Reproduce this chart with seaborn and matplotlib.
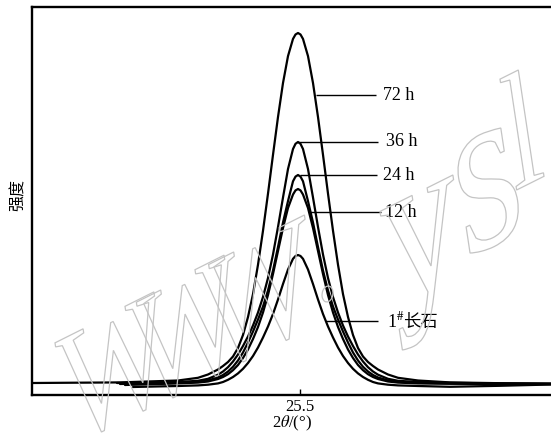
import matplotlib
matplotlib.use("Agg")
import matplotlib.pyplot as plt
import matplotlib.transforms as mtransforms
from matplotlib.textpath import TextPath
from matplotlib.patches import PathPatch
from matplotlib.font_manager import FontProperties
import numpy as np
import pandas as pd
import seaborn as sns

# ---------------- data ----------------
# 2theta positions around the peak (deg), shared by all patterns
two_theta_core = [25.256, 25.296, 25.316, 25.336, 25.346, 25.356, 25.366, 25.376, 25.386, 25.396,
                  25.406, 25.416, 25.426, 25.436, 25.446, 25.456, 25.466, 25.476, 25.486, 25.491,
                  25.496, 25.501,
                  25.506, 25.516, 25.526, 25.536, 25.546, 25.556, 25.566, 25.576, 25.586, 25.596,
                  25.606, 25.616, 25.626, 25.636, 25.646, 25.656, 25.676, 25.696, 25.736]
two_theta_right_tail = [25.800, 25.900, 26.002]

# intensities (a.u.)
i_72h = [145, 172, 205, 255, 290, 330, 385, 470, 600, 780,
         1009, 1303, 1643, 2014, 2402, 2780, 3120, 3389, 3561, 3605,
         3620, 3605,
         3561, 3389, 3120, 2780, 2402, 2014, 1643, 1303, 1009, 780,
         600, 470, 385, 330, 290, 255, 205, 172, 145]
i_36h = [130, 142, 162, 203, 235, 278, 335, 405, 490, 585,
         695, 825, 980, 1170, 1405, 1680, 1975, 2260, 2460, 2512,
         2530, 2512,
         2460, 2260, 1975, 1680, 1405, 1170, 980, 825, 695, 585,
         490, 405, 335, 278, 235, 203, 162, 142, 130]
i_24h = [121, 132, 146, 175, 200, 235, 282, 345, 425, 525,
         635, 755, 885, 1045, 1245, 1480, 1725, 1939, 2137, 2184,
         2200, 2184,
         2137, 1939, 1725, 1480, 1245, 1045, 885, 755, 635, 525,
         425, 345, 282, 235, 200, 175, 146, 132, 121]
i_12h = [116, 124, 135, 160, 180, 208, 248, 300, 370, 455,
         560, 680, 825, 1000, 1210, 1440, 1670, 1870, 2005, 2046,
         2060, 2046,
         2005, 1870, 1670, 1440, 1210, 1000, 825, 680, 560, 455,
         370, 300, 248, 208, 180, 160, 135, 124, 116]
i_1 = [90, 96, 103, 116, 130, 152, 180, 216, 262, 320,
       390, 475, 575, 685, 810, 955, 1110, 1255, 1362, 1390,
       1400, 1390,
       1362, 1255, 1110, 955, 810, 685, 575, 475, 390, 320,
       262, 216, 180, 152, 130, 116, 103, 96, 90]

# baseline tails
left_x_72h, left_i_72h = [24.966, 25.140], [120, 126]
left_x_36h, left_i_36h = [25.134], [120]
left_x_24h, left_i_24h = [25.140], [110]
left_x_12h, left_i_12h = [25.150], [100]
left_x_1, left_i_1 = [25.166], [80]
right_i_72h = [126, 118, 115]
right_i_36h = [122, 115, 112]
right_i_24h = [117, 112, 110]
right_i_12h = [112, 110, 108]
right_i_1 = [82, 92, 105]

samples = ["72 h", "36 h", "24 h", "12 h", "1#长石"]
core = [i_72h, i_36h, i_24h, i_12h, i_1]
left_x = [left_x_72h, left_x_36h, left_x_24h, left_x_12h, left_x_1]
left_i = [left_i_72h, left_i_36h, left_i_24h, left_i_12h, left_i_1]
right_i = [right_i_72h, right_i_36h, right_i_24h, right_i_12h, right_i_1]

x_tick_values = [25.5]
x_tick_labels = ["25.5"]

# label leader lines
label_line_start = [25.532, 25.496, 25.500, 25.518, 25.552]
label_line_end = [25.652, 25.656, 25.654, 25.662, 25.656]
label_level = [3000, 2530, 2200, 1830, 740]
label_text_x = [25.666, 25.672, 25.666, 25.670, 25.676]

# ---------------- style ----------------
sns.set_theme(style="white")
plt.rcParams["font.family"] = ["Liberation Serif", "Noto Sans CJK SC"]
plt.rcParams["mathtext.fontset"] = "stix"

W, H = 551, 436
fig = plt.figure(figsize=(W / 100, H / 100), dpi=100)
ax = fig.add_axes([32 / W, 41 / H, 519 / W, 388 / H])

frames = []
for s, c, lx, li, ri in zip(samples, core, left_x, left_i, right_i):
    frames.append(pd.DataFrame({
        "two_theta": list(lx) + two_theta_core + two_theta_right_tail,
        "intensity": list(li) + c + ri,
        "sample": s,
    }))
df = pd.concat(frames, ignore_index=True)

sns.lineplot(data=df, x="two_theta", y="intensity", hue="sample",
             palette=["black"] * len(samples), estimator=None, sort=False,
             linewidth=1.6, legend=False, ax=ax)

ax.set_xlim(24.964, 26.002)
ax.set_ylim(0, 3880)

for side in ["left", "bottom", "top"]:
    ax.spines[side].set_visible(True)
    ax.spines[side].set_color("black")
    ax.spines[side].set_linewidth(1.7)
ax.spines["right"].set_visible(False)

ax.set_xticks(x_tick_values)
ax.set_xticklabels(x_tick_labels)
ax.set_yticks([])
ax.tick_params(axis="x", direction="in", length=4.5, width=1.0, color="black",
               labelsize=12, pad=3, labelcolor="black", bottom=True)
ax.set_xlabel("2$\\theta$/(°)", fontsize=12, labelpad=-1, color="black")
ax.set_ylabel("强度", fontsize=11.5, color="black", family=["Noto Sans CJK SC"])
ax.yaxis.set_label_coords(-0.010, 0.515)

# leader lines + labels
for i, s in enumerate(samples):
    ax.plot([label_line_start[i], label_line_end[i]], [label_level[i]] * 2,
            color="black", lw=1.0, solid_capstyle="butt")
    if s.startswith("1#"):
        t1 = ax.annotate("1$^{\\#}$", xy=(label_text_x[i], label_level[i]),
                         xytext=(-1, -4.5), textcoords="offset points",
                         fontsize=13, va="baseline", ha="left", color="black",
                         family=["Liberation Serif"])
        ax.annotate("长石", xy=(1, label_level[i]), xycoords=(t1, "data"),
                    xytext=(-0.5, -4.5), textcoords="offset points", fontsize=12.5,
                    va="baseline", ha="left", color="black",
                    family=["Noto Sans CJK SC"])
    else:
        ax.text(label_text_x[i], label_level[i], s, fontsize=13, va="center",
                ha="left", color="black", family=["Liberation Serif"])

# watermark: outlined, sheared letters (pixel boxes: left, top, bottom)
wm_letters = ["W", "W", "W", ".", "y", "s", "l"]
wm_boxes = [(55, 290, 432), (125, 252, 398), (195, 215, 362), (322, 286, 302),
            (380, 175, 350), (458, 128, 253), (500, 70, 190)]
fp = FontProperties(family="Liberation Serif")
compress, shear_up, lean = 0.72, 0.5, -0.15
for ch, (x0, ytop, ybot) in zip(wm_letters, wm_boxes):
    tp = TextPath((0, 0), ch, size=100, prop=fp)
    base = mtransforms.Affine2D().scale(compress, 1.0) + mtransforms.Affine2D(
        np.array([[1.0, lean, 0.0], [shear_up, 1.0, 0.0], [0.0, 0.0, 1.0]]))
    p = base.transform_path(tp)
    ext = p.get_extents()
    sc = (ybot - ytop) / ext.height
    tr = mtransforms.Affine2D().translate(-ext.x0, -ext.y0).scale(sc).translate(x0, H - ybot)
    patch = PathPatch(tr.transform_path(p), facecolor="none", edgecolor="#c4c4c4",
                      lw=0.9, transform=mtransforms.IdentityTransform(), zorder=10)
    fig.add_artist(patch)

fig.savefig("out.png", dpi=100)
